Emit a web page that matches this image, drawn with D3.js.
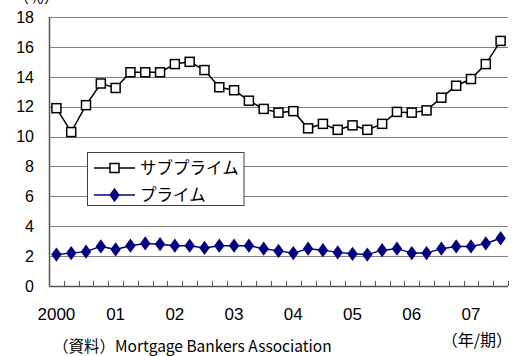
<!DOCTYPE html>
<html>
<head>
<meta charset="utf-8">
<script src="https://cdn.jsdelivr.net/npm/d3@7"></script>
<style>
  html, body { margin: 0; padding: 0; background: #fff; }
  svg { display: block; }
  .num { font-family: "Liberation Sans", Arial, sans-serif; font-size: 16px; fill: #000; }
  .jp { font-family: "Noto Sans CJK JP", sans-serif; fill: #000; }
</style>
</head>
<body>
<svg id="chart" width="517" height="356"></svg>
<script>
// Quarterly delinquency rates (%), 2000 Q1 – 2007 Q3
const quarters = d3.range(31).map(i => `${2000 + Math.floor(i / 4)}Q${(i % 4) + 1}`);
const subprime = [11.9, 10.3, 12.1, 13.55, 13.25, 14.3, 14.3, 14.3, 14.85, 15.0, 14.45, 13.3, 13.1, 12.4, 11.85, 11.6,
                  11.7, 10.55, 10.85, 10.45, 10.75, 10.45, 10.85, 11.65, 11.6, 11.75, 12.6, 13.4, 13.85, 14.85, 16.4];
const prime = [2.1, 2.2, 2.3, 2.65, 2.45, 2.7, 2.85, 2.8, 2.7, 2.7, 2.55, 2.7, 2.7, 2.7, 2.5, 2.35,
               2.2, 2.5, 2.4, 2.25, 2.15, 2.1, 2.4, 2.5, 2.2, 2.2, 2.5, 2.65, 2.65, 2.85, 3.2];
const yTicks = [0, 2, 4, 6, 8, 10, 12, 14, 16, 18];
const yearLabels = ["2000", "01", "02", "03", "04", "05", "06", "07"];
const seriesNames = ["サブプライム", "プライム"];

const svg = d3.select("#chart");
const plotL = 49, plotR = 508, plotT = 17, plotB = 286;

const x = d3.scaleBand().domain(quarters).range([plotL, plotR]);
const y = d3.scaleLinear().domain([0, 18]).range([plotB, plotT]);
const cx = d => x(d) + x.bandwidth() / 2;

// horizontal gridlines
svg.append("g").selectAll("line").data(yTicks.filter(v => v > 0)).join("line")
  .attr("x1", plotL).attr("x2", plotR)
  .attr("y1", d => Math.round(y(d)) + 0.5).attr("y2", d => Math.round(y(d)) + 0.5)
  .attr("stroke", "#808080").attr("stroke-width", 1);

// y tick labels
svg.append("g").selectAll("text").data(yTicks).join("text")
  .attr("class", "num")
  .attr("x", 34).attr("y", d => y(d))
  .attr("text-anchor", "end").attr("dy", "0.36em")
  .text(d => d);

// unit label, mostly above the top edge
svg.append("text").attr("class", "jp").attr("x", 14).attr("y", 3)
  .style("font-size", "15px").text("（％）");

// axes lines
svg.append("line").attr("x1", plotL + 0.5).attr("x2", plotL + 0.5).attr("y1", plotT).attr("y2", plotB)
  .attr("stroke", "#555").attr("stroke-width", 1.5);
svg.append("line").attr("x1", plotL).attr("x2", plotR).attr("y1", plotB + 0.5).attr("y2", plotB + 0.5)
  .attr("stroke", "#555").attr("stroke-width", 1.5);

// x tick marks between categories, pointing inward
const tickPos = quarters.map(q => x(q)).concat([plotR]);
svg.append("g").selectAll("line").data(tickPos).join("line")
  .attr("x1", d => Math.round(d) + 0.5).attr("x2", d => Math.round(d) + 0.5)
  .attr("y1", plotB).attr("y2", plotB - 5)
  .attr("stroke", "#555").attr("stroke-width", 1);

// year labels at each first quarter
svg.append("g").selectAll("text").data(yearLabels).join("text")
  .attr("class", "num")
  .attr("x", (d, i) => cx(quarters[i * 4]))
  .attr("y", 320)
  .attr("text-anchor", "middle")
  .style("font-size", "17px")
  .text(d => d);

const line = d3.line().x((d, i) => cx(quarters[i])).y(d => y(d));

// prime series
svg.append("path").datum(prime).attr("d", line)
  .attr("fill", "none").attr("stroke", "#000080").attr("stroke-width", 1.5);
const diamond = d3.symbol().type(d3.symbolDiamond).size(60);
svg.append("g").selectAll("path").data(prime).join("path")
  .attr("d", diamond)
  .attr("transform", (d, i) => `translate(${cx(quarters[i])},${y(d)}) scale(1.25,1)`)
  .attr("fill", "#000080");

// subprime series
svg.append("path").datum(subprime).attr("d", line)
  .attr("fill", "none").attr("stroke", "#000").attr("stroke-width", 1.5);
svg.append("g").selectAll("rect").data(subprime).join("rect")
  .attr("x", (d, i) => cx(quarters[i]) - 4.5).attr("y", d => y(d) - 4.5)
  .attr("width", 9).attr("height", 9)
  .attr("fill", "#fff").attr("stroke", "#000").attr("stroke-width", 1.5);

// legend
const lg = svg.append("g");
lg.append("rect").attr("x", 87.5).attr("y", 152.5).attr("width", 156.5).attr("height", 53)
  .attr("fill", "#fff").attr("stroke", "#404040").attr("stroke-width", 1);
const rows = [
  { name: seriesNames[0], color: "#000", cy: 168 },
  { name: seriesNames[1], color: "#000080", cy: 195 }
];
rows.forEach((r, i) => {
  lg.append("line").attr("x1", 94).attr("x2", 135).attr("y1", r.cy).attr("y2", r.cy)
    .attr("stroke", r.color).attr("stroke-width", 1.5);
  if (i === 0) {
    lg.append("rect").attr("x", 110).attr("y", r.cy - 4.5).attr("width", 9).attr("height", 9)
      .attr("fill", "#fff").attr("stroke", "#000").attr("stroke-width", 1.5);
  } else {
    lg.append("path").attr("d", diamond)
      .attr("transform", `translate(114.5,${r.cy}) scale(1.25,1)`).attr("fill", "#000080");
  }
  lg.append("text").attr("class", "jp").attr("x", 140).attr("y", r.cy)
    .attr("dy", "0.36em").style("font-size", "16.5px").text(r.name);
});

// source and axis unit notes
svg.append("text").attr("class", "jp").attr("x", 53).attr("y", 352)
  .style("font-size", "15.5px").text("（資料）Mortgage Bankers Association");
svg.append("text").attr("class", "jp").attr("x", 512).attr("y", 346)
  .attr("text-anchor", "end").style("font-size", "16px").text("（年/期）");
</script>
</body>
</html>
